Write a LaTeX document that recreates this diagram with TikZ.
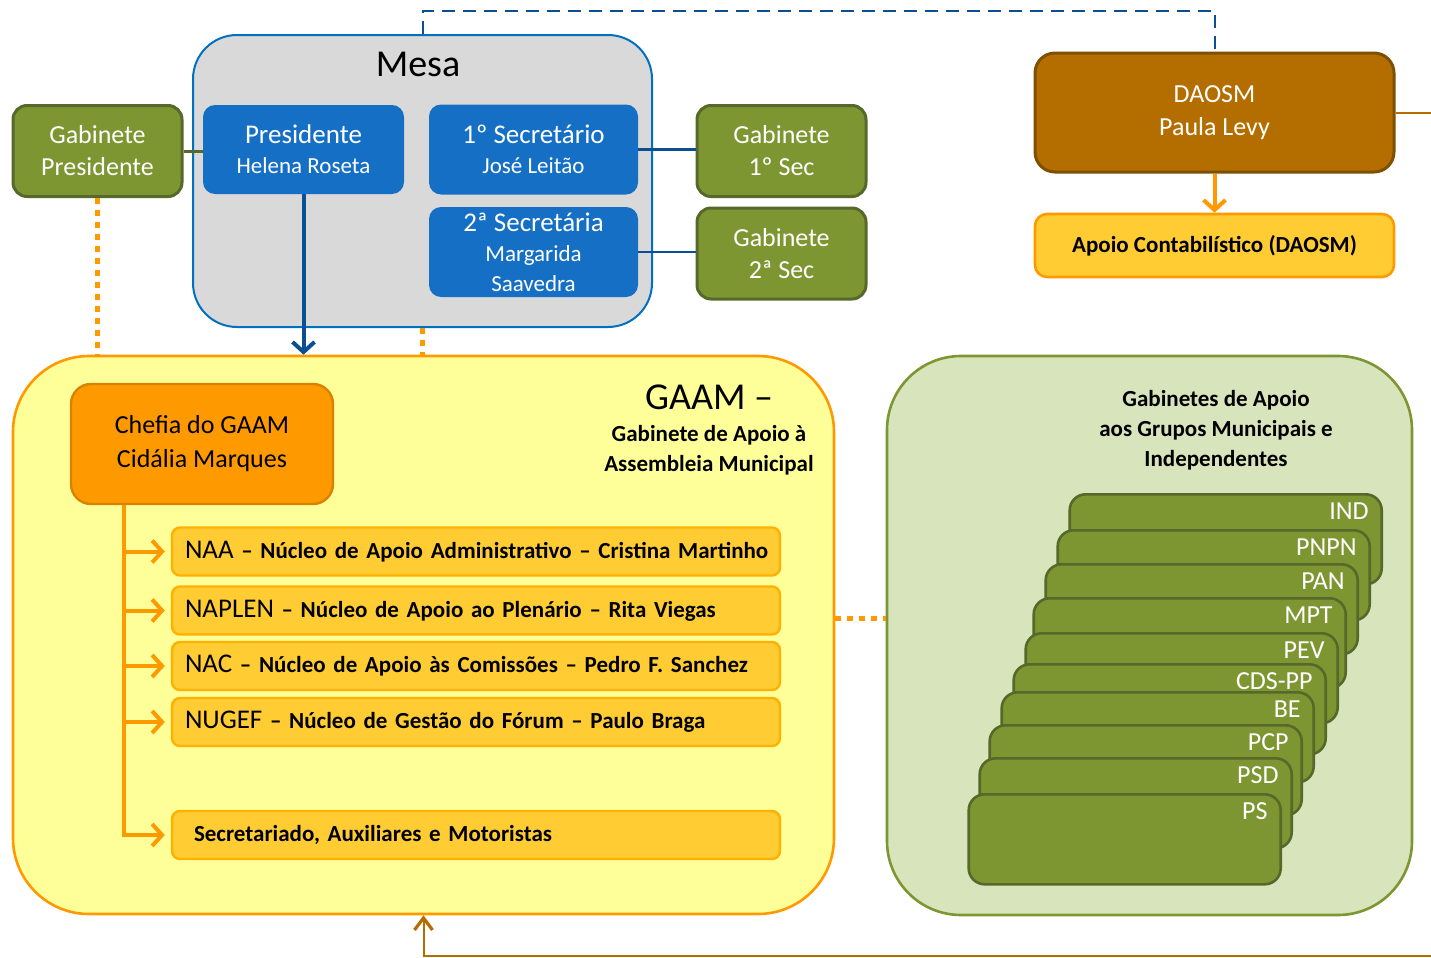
\documentclass[tikz,border=0pt]{standalone}
\usepackage{fontspec}
\setmainfont{Carlito}
\usetikzlibrary{arrows.meta, positioning}

\definecolor{mesagray}{HTML}{D9D9D9}
\definecolor{mesablue}{HTML}{0070C0}
\definecolor{boxblue}{HTML}{1570C5}
\definecolor{lineblue}{HTML}{0B4F92}
\definecolor{gabgreen}{HTML}{7E9632}
\definecolor{gabdark}{HTML}{56682A}
\definecolor{palegreen}{HTML}{D8E4BC}
\definecolor{daosmbrown}{HTML}{B46E00}
\definecolor{daosmdark}{HTML}{7F4F00}
\definecolor{apoioyellow}{HTML}{FFCC33}
\definecolor{orangeln}{HTML}{FF9900}
\definecolor{chefdark}{HTML}{D98200}
\definecolor{gaamyellow}{HTML}{FFFF99}
\definecolor{itemborder}{HTML}{FFB000}

\begin{document}
\begin{tikzpicture}[x=0.5pt,y=-0.5pt,
    >={Straight Barb[length=5pt,width=11pt]},
    mesabox/.style={draw=mesablue,line width=1pt,fill=mesagray,rounded corners=22pt,
        minimum width=229.5pt,minimum height=146pt},
    bluebox/.style={fill=boxblue,rounded corners=6pt,text=white,align=center,inner sep=2pt,
        minimum width=100.5pt,minimum height=44.5pt,font=\fontsize{11.5}{15}\selectfont},
    gabbox/.style={draw=gabdark,line width=1.5pt,fill=gabgreen,rounded corners=7pt,text=white,
        align=center,inner sep=2pt,minimum width=84.5pt,minimum height=45.5pt,
        font=\fontsize{13}{16}\selectfont},
    daosmbox/.style={draw=daosmdark,line width=1.5pt,fill=daosmbrown,rounded corners=10pt,
        text=white,align=center,minimum width=179.5pt,minimum height=59.5pt,
        font=\fontsize{13}{16.5}\selectfont},
    apoiobox/.style={draw=orangeln,line width=1.3pt,fill=apoioyellow,rounded corners=6pt,
        minimum width=179.5pt,minimum height=31.5pt,font=\fontsize{11.5}{14}\selectfont\bfseries},
    gaambox/.style={draw=orangeln,line width=1.3pt,fill=gaamyellow,rounded corners=38pt,
        minimum width=410.5pt,minimum height=279pt},
    grpbox/.style={draw=gabgreen,line width=1.3pt,fill=palegreen,rounded corners=37pt,
        minimum width=262.5pt,minimum height=279.5pt},
    chefbox/.style={draw=chefdark,line width=1.2pt,fill=orangeln,rounded corners=10pt,
        align=center,minimum width=131pt,minimum height=60pt,font=\fontsize{13}{17}\selectfont},
    itembox/.style={draw=itemborder,line width=1.2pt,fill=apoioyellow,rounded corners=4pt,
        text width=291pt,align=left,inner xsep=6.5pt,minimum height=24pt,
        font=\fontsize{11.5}{14}\selectfont\bfseries},
    card/.style={draw=gabdark,line width=1.3pt,fill=gabgreen,rounded corners=8pt,
        minimum width=156pt,minimum height=45pt,anchor=north east},
    cardlbl/.style={anchor=east,inner sep=0pt,xshift=-7pt,yshift=-9pt,text=white,
        font=\fontsize{13}{15}\selectfont},
    dashline/.style={lineblue,line width=1pt,dash pattern=on 6.5pt off 4pt},
    dotline/.style={orangeln,line width=2.5pt,dash pattern=on 3pt off 3pt},
    blueline/.style={lineblue,line width=1.3pt},
    greenline/.style={gabdark,line width=1.5pt},
    bluearrow/.style={->,lineblue,line width=2pt},
    orarrow/.style={->,orangeln,line width=2pt},
    trunkline/.style={orangeln,line width=2pt,shorten >=3pt},
    brownline/.style={->,daosmbrown,line width=1pt,
        >={Straight Barb[length=6pt,width=9pt,line width=1.6pt]}}]
\useasboundingbox (0,0) rectangle (1431,958);
\fill[white] (0,0) rectangle (1431,958);

% Mesa
\node[mesabox] (mesa) at (422.5,181) {};
\node[font=\fontsize{19}{22}\selectfont] (mesaT) at (418,64) {Mesa};
\node[bluebox] (pres) at (303.5,149.5) {{\fontsize{13.5}{15}\selectfont Presidente}\\Helena Roseta};
\node[bluebox,minimum width=104.5pt,minimum height=45pt] (sec1) at (533.5,149.5)
    {{\fontsize{13.5}{15}\selectfont 1º Secretário}\\José Leitão};
\node[bluebox,minimum width=104.5pt,minimum height=45pt] (sec2) at (533.5,252)
    {{\fontsize{13.5}{15}\selectfont 2ª Secretária}\\Margarida\\Saavedra};
\node[gabbox] (gabpres) at (97.5,151) {Gabinete\\Presidente};
\node[gabbox] (gab1) at (781.5,151) {Gabinete\\1º Sec};
\node[gabbox] (gab2) at (781.5,253.5) {Gabinete\\2ª Sec};

% DAOSM
\node[daosmbox] (daosm) at (1214.5,112.5) {DAOSM\\Paula Levy};
\node[apoiobox] (apoio) at (1214.5,245.5) {Apoio Contabilístico (DAOSM)};

% GAAM
\node[gaambox] (gaam) at (423.5,635) {};
\node[font=\fontsize{19}{22}\selectfont] (gaamT) at (709,397) {GAAM –};
\node[align=center,font=\fontsize{11.5}{15}\selectfont\bfseries] (gaamS) at (709,450)
    {Gabinete de Apoio à\\Assembleia Municipal};
\node[chefbox] (chefia) at (202,444) {Chefia do GAAM\\Cidália Marques};
\node[itembox] (naa) at (476,551.5)
    {\mbox{{\mdseries\fontsize{13.5}{16}\selectfont NAA} – Núcleo de Apoio Administrativo – Cristina Martinho}};
\node[itembox] (naplen) at (476,610.5)
    {{\mdseries\fontsize{13.5}{16}\selectfont NAPLEN} – Núcleo de Apoio ao Plenário – Rita Viegas};
\node[itembox] (nac) at (476,666)
    {{\mdseries\fontsize{13.5}{16}\selectfont NAC} – Núcleo de Apoio às Comissões – Pedro F. Sanchez};
\node[itembox] (nugef) at (476,722)
    {{\mdseries\fontsize{13.5}{16}\selectfont NUGEF} – Núcleo de Gestão do Fórum – Paulo Braga};
\node[itembox] (secr) at (476,835) {\hspace{4.5pt}Secretariado, Auxiliares e Motoristas};

% Gabinetes de apoio aos grupos
\node[grpbox] (gabgrp) at (1149.5,635.5) {};
\node[align=center,font=\fontsize{11.5}{15}\selectfont\bfseries] (grpT) at (1216,430)
    {Gabinetes de Apoio\\aos Grupos Municipais e\\Independentes};
\node[card,label={[cardlbl]north east:IND}] (ind) at (1383,493) {};
\node[card,label={[cardlbl]north east:PNPN}] (pnpn) at (1371,529) {};
\node[card,label={[cardlbl]north east:PAN}] (pan) at (1359,563) {};
\node[card,label={[cardlbl]north east:MPT}] (mpt) at (1347,597) {};
\node[card,label={[cardlbl]north east:PEV}] (pev) at (1339,632) {};
\node[card,label={[cardlbl]north east:CDS-PP}] (cds) at (1327,663) {};
\node[card,label={[cardlbl]north east:BE}] (be) at (1315,691) {};
\node[card,label={[cardlbl]north east:PCP}] (pcp) at (1303,724) {};
\node[card,label={[cardlbl]north east:PSD}] (psd) at (1293,757) {};
\node[card,label={[cardlbl]north east:PS}] (ps) at (1282,793) {};

% connectors
\draw[dashline] (mesa.north) -- ++(0,-23) -| (daosm.north);
\draw[dotline] (gabpres.south) -- (gabpres.south |- gaam.north);
\draw[dotline] (mesa.south) -- (mesa.south |- gaam.north);
\draw[bluearrow] (pres.south) -- (pres.south |- gaam.north);
\draw[greenline] (gabpres.east) -- (gabpres.east -| pres.west);
\draw[blueline] (sec1.east) -- (sec1.east -| gab1.west);
\draw[blueline] (sec2.east) -- (sec2.east -| gab2.west);
\draw[orarrow] (daosm.south) -- (apoio.north);
\coordinate (trunk) at ([xshift=-39pt]chefia.south);
\draw[trunkline,->] (trunk) |- (secr.west);
\draw[trunkline,->] (trunk |- naa.west) -- (naa.west);
\draw[trunkline,->] (trunk |- naplen.west) -- (naplen.west);
\draw[trunkline,->] (trunk |- nac.west) -- (nac.west);
\draw[trunkline,->] (trunk |- nugef.west) -- (nugef.west);
\draw[dotline] ([yshift=8.5pt]gaam.east) -- ([yshift=8.5pt]gaam.east -| gabgrp.west);
\coordinate (edgeR) at (1433,956);
\draw[brownline] (daosm.east) -| (edgeR) -| (gaam.south);
\end{tikzpicture}
\end{document}
